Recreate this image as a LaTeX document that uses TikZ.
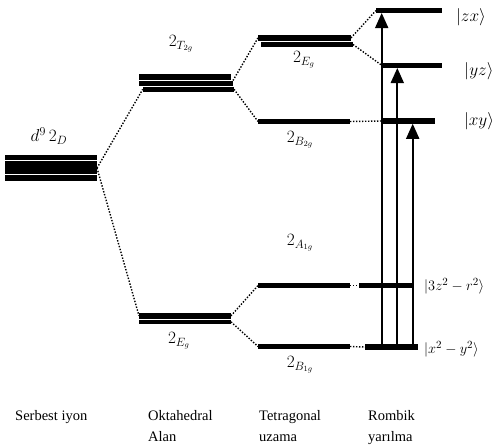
\documentclass[tikz,border=0pt]{standalone}
\usepackage{fontspec}
\setmainfont{Liberation Serif}
\usetikzlibrary{arrows.meta}
\begin{document}
\begin{tikzpicture}[x=1pt,y=-1pt,
  lvl/.style={rectangle,fill=black,draw=none,inner sep=0pt,outer sep=0pt},
  link/.style={line width=1.4pt,dash pattern=on 1.4pt off 1.6pt},
  arr/.style={line width=1.7pt,-{Triangle[width=13pt,length=15pt]}},
  lab/.style={inner sep=0pt,font=\fontsize{16.5}{19}\selectfont},
  term/.style={inner sep=0pt,font=\fontsize{17}{20}\selectfont},
  colcap/.style={inner sep=0pt,anchor=base west,align=left,
    font=\fontsize{14.5}{21.5}\selectfont}]
\useasboundingbox (0,0) rectangle (493,447);

% free ion term
\node[lvl,minimum width=92pt,minimum height=26pt] (ion) at (51,168) {};
\draw[white,line width=0.8pt] (ion.west |- 0,160.8) -- (ion.east |- 0,160.8)
      (ion.west |- 0,174.8) -- (ion.east |- 0,174.8);
\node[term] (ionl) at (49,136) {$d^9\,2_D$};

% octahedral field
\node[lvl,minimum width=92pt,minimum height=5.5pt] (t2a) at (185,76.8) {};
\node[lvl,minimum width=94pt,minimum height=5pt] (t2b) at (186,83) {};
\node[lvl,minimum width=91.3pt,minimum height=5.3pt] (t2c) at (188.4,89.3) {};
\node[term] (t2l) at (181,44) {$2_{T_{2g}}$};
\node[lvl,minimum width=92pt,minimum height=5.5pt] (eoa) at (185,315.8) {};
\node[lvl,minimum width=92pt,minimum height=4.5pt] (eob) at (185,321.8) {};
\node[term] (eol) at (179,341) {$2_{E_g}$};

% tetragonal elongation
\node[lvl,minimum width=93pt,minimum height=5.5pt] (tea) at (304.5,37.9) {};
\node[lvl,minimum width=92pt,minimum height=5pt] (teb) at (307,44.5) {};
\node[term] (tel) at (304,60) {$2_{E_g}$};
\node[lvl,minimum width=92pt,minimum height=5pt] (b2) at (304,121.5) {};
\node[term] (b2l) at (300,140) {$2_{B_{2g}}$};
\node[term] (a1l) at (300,243) {$2_{A_{1g}}$};
\node[lvl,minimum width=92pt,minimum height=5pt] (a1) at (304,285.5) {};
\node[lvl,minimum width=92pt,minimum height=5pt] (b1) at (304,346.5) {};
\node[term] (b1l) at (300,365) {$2_{B_{1g}}$};

% rhombic splitting
\node[lvl,minimum width=66pt,minimum height=5pt] (zx) at (409,10.5) {};
\node[lvl,minimum width=60pt,minimum height=5pt] (yz) at (412,65.5) {};
\node[lvl,minimum width=53pt,minimum height=5.5pt] (xy) at (408.5,121) {};
\node[lvl,minimum width=54pt,minimum height=5pt] (rz) at (386,285.5) {};
\node[lvl,minimum width=53pt,minimum height=6pt] (rx) at (391.5,347) {};
\node[lab] (zxl) at (471,17) {$|zx\rangle$};
\node[lab] (yzl) at (479,71) {$|yz\rangle$};
\node[lab] (xyl) at (479,121) {$|xy\rangle$};
\node[lab,anchor=west,font=\fontsize{15.5}{18}\selectfont] (rzl) at (424,286) {$|3z^2-r^2\rangle$};
\node[lab,anchor=west,font=\fontsize{15.5}{18}\selectfont] (rxl) at (424,349) {$|x^2-y^2\rangle$};

% correlation lines
\draw[link] (ion.east) -- (t2c.west);
\draw[link] (ion.east) -- (eoa.west);
\draw[link] (t2b.north east) -- (tea.west);
\draw[link] (t2c.east) -- (b2.west);
\draw[link] (eoa.east) -- (a1.west);
\draw[link] (eob.east) -- (b1.west);
\draw[link] (tea.east) -- (zx.west);
\draw[link] (teb.east) -- (yz.west);
\draw[link] (b2.east) -- (xy.west);
\draw[link] (a1.east) -- (rz.west);
\draw[link] (b1.east) -- (rx.west);

% transitions
\coordinate (c1) at (381.7,0);
\coordinate (c2) at (397.3,0);
\coordinate (c3) at (412.7,0);
\draw[arr] (rx.north -| c1) -- (zx.south -| c1);
\draw[arr] (rx.north -| c2) -- (yz.south -| c2);
\draw[arr] (rx.north -| c3) -- (xy.south -| c3);

% column captions (baseline of the last line)
\node[colcap] (s1) at (15,420) {Serbest iyon};
\node[colcap] (s2) at (148,441.5) {Oktahedral\\Alan};
\node[colcap] (s3) at (259,441.5) {Tetragonal\\uzama};
\node[colcap] (s4) at (368,441.5) {Rombik\\yarılma};
\end{tikzpicture}
\end{document}
